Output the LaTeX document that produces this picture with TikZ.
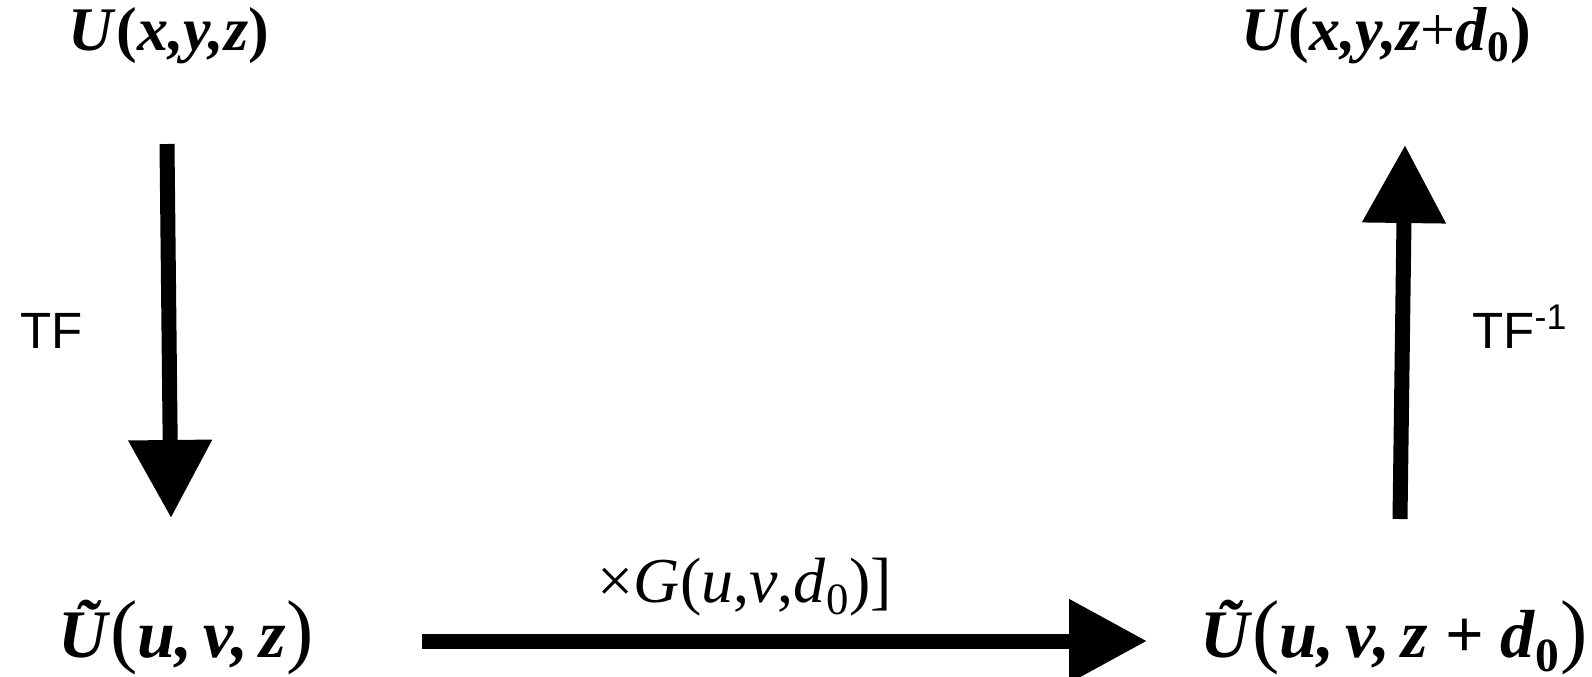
\documentclass[tikz,border=0pt]{standalone}
\usepackage{fontspec}
\setmainfont{Liberation Serif}
\newfontfamily\sansfont{Liberation Sans}
\usetikzlibrary{arrows.meta}
\newcommand{\bi}[1]{\textbf{\textit{#1}}}
\newcommand{\bigparen}[1]{{\fontsize{41}{41}\selectfont #1}}

\begin{document}
\begin{tikzpicture}[x=.5pt,y=-.5pt,line join=miter,
        lbl/.style={inner sep=0pt,anchor=base},
        flow/.style={line width=7.5pt,-{Triangle[length=39pt,width=40pt]}}]
    \useasboundingbox (0,0) rectangle (1592,676);
    % space and frequency domain fields
    \node[lbl,font=\fontsize{31}{33}\selectfont] (sp) at (169,50)
        {\bi{U}\textbf{(}\bi{x,y,z}\textbf{)}};
    \node[lbl,font=\fontsize{31}{33}\selectfont] (spd) at (1386,50)
        {\bi{U}\textbf{(}\bi{x,y,z}+\bi{d}\textsubscript{\textbf{0}}\textbf{)}};
    \node[lbl,font=\fontsize{34}{36}\selectfont] (fr) at (186,657)
        {\bi{\~U}\bigparen{(}\bi{u,\,v,\,z}\bigparen{)}};
    \node[lbl,font=\fontsize{34}{36}\selectfont] (frd) at (1394,657)
        {\bi{\~U}\bigparen{(}\bi{u,\,v,\,z} \textbf{+} \bi{d}\textsubscript{\textbf{0}}\bigparen{)}};
    % transforms
    \node[lbl,anchor=base west,font=\sansfont\fontsize{25.5}{28}\selectfont] (tf) at (20,348) {TF};
    \node[lbl,anchor=base west,font=\sansfont\fontsize{25.5}{28}\selectfont] (itf) at (1472,348) {TF\textsuperscript{-1}};
    \node[lbl,font=\fontsize{32}{34}\selectfont] (prop) at (745,602)
        {×\textit{G}(\textit{u},\textit{v},\textit{d}\textsubscript{0})]};
    \draw[flow] ([shift={(-2,94)}]sp.base) -- ([shift={(-15,-139)}]fr.base);
    \draw[flow] ([shift={(236,-16)}]fr.base) -- ([shift={(-247,-16)}]frd.base);
    \draw[flow] ([shift={(6,-138)}]frd.base) -- ([shift={(19,95)}]spd.base);
\end{tikzpicture}
\end{document}
